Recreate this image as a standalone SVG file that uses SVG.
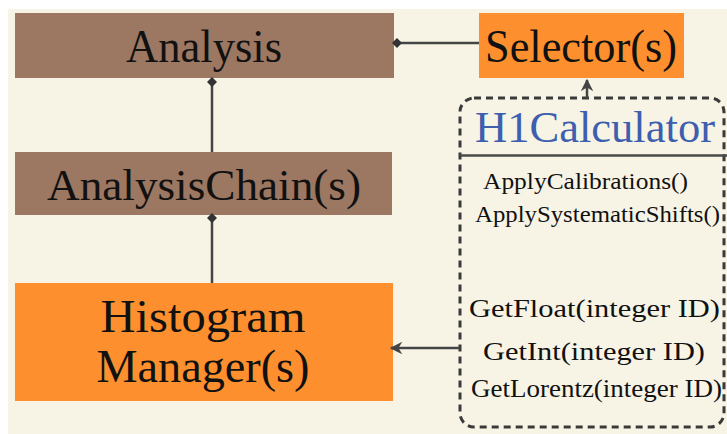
<svg xmlns="http://www.w3.org/2000/svg" width="727" height="434" viewBox="0 0 727 434">
<defs>
<style>
text{font-family:'Liberation Serif','DejaVu Serif','Times New Roman',serif;}
.t{fill:#111;}
.brown{fill:#9c7762;}
.orange{fill:#fd8f2e;}
.ln{stroke:#454545;stroke-width:2.5;fill:none;}
.m{font-size:24px;}
</style>
<marker id="dia" viewBox="0 0 10 10" refX="5" refY="5" markerWidth="4" markerHeight="4" orient="auto">
<path d="M0,5 L5,0 L10,5 L5,10 Z" fill="#333"/>
</marker>
<marker id="arr" viewBox="0 0 10 10" refX="9" refY="5" markerWidth="5" markerHeight="5" orient="auto">
<path d="M0,0 L10,5 L0,10 L3,5 Z" fill="#444"/>
</marker>
</defs>
<rect x="0" y="0" width="727" height="434" fill="#ffffff"/>
<rect x="8" y="9" width="719" height="425" fill="#f7f4e6"/>
<g id="analysis">
<rect class="brown" x="15" y="13" width="379" height="65"/>
<text class="t" x="204" y="62" font-size="46" text-anchor="middle" textLength="156" lengthAdjust="spacingAndGlyphs">Analysis</text>
</g>
<g id="selector">
<rect class="orange" x="479" y="13" width="205" height="65"/>
<text class="t" x="581" y="62" font-size="46" text-anchor="middle" textLength="192" lengthAdjust="spacingAndGlyphs">Selector(s)</text>
</g>
<g id="analysischain">
<rect class="brown" x="15" y="152" width="377" height="63"/>
<text class="t" x="204" y="200" font-size="45" text-anchor="middle" textLength="314" lengthAdjust="spacingAndGlyphs">AnalysisChain(s)</text>
</g>
<g id="histogrammanager">
<rect class="orange" x="15" y="283" width="378" height="118"/>
<text class="t" x="203" y="332" font-size="47" text-anchor="middle" textLength="205" lengthAdjust="spacingAndGlyphs">Histogram</text>
<text class="t" x="203" y="382" font-size="47" text-anchor="middle" textLength="213" lengthAdjust="spacingAndGlyphs">Manager(s)</text>
</g>
<g id="h1calculator">
<rect x="460" y="98" width="264" height="329" rx="14" ry="14" fill="none" stroke="#3a3a3a" stroke-width="3" stroke-dasharray="7,5"/>
<text x="595" y="142" font-size="44" fill="#3d5fae" text-anchor="middle" textLength="240" lengthAdjust="spacingAndGlyphs">H1Calculator</text>
<line x1="460" y1="155.5" x2="727" y2="155.5" stroke="#4a4a4a" stroke-width="2.5"/>
<text class="t m" x="483" y="189" textLength="205" lengthAdjust="spacingAndGlyphs">ApplyCalibrations()</text>
<text class="t m" x="475" y="222" textLength="245" lengthAdjust="spacingAndGlyphs">ApplySystematicShifts()</text>
<text class="t" x="469" y="317" font-size="26" textLength="251" lengthAdjust="spacingAndGlyphs">GetFloat(integer ID)</text>
<text class="t" x="483" y="360" font-size="26" textLength="222" lengthAdjust="spacingAndGlyphs">GetInt(integer ID)</text>
<text class="t" x="471" y="397" font-size="26" textLength="251" lengthAdjust="spacingAndGlyphs">GetLorentz(integer ID)</text>
</g>
<g id="connectors">
<line class="ln" x1="479" y1="43" x2="397" y2="43" marker-end="url(#dia)"/>
<line class="ln" x1="212" y1="152" x2="212" y2="82" marker-end="url(#dia)"/>
<line class="ln" x1="212" y1="283" x2="212" y2="218" marker-end="url(#dia)"/>
<line class="ln" x1="587" y1="98" x2="587" y2="80" marker-end="url(#arr)"/>
<line class="ln" x1="460" y1="348" x2="391" y2="348" marker-end="url(#arr)"/>
</g>
</svg>
